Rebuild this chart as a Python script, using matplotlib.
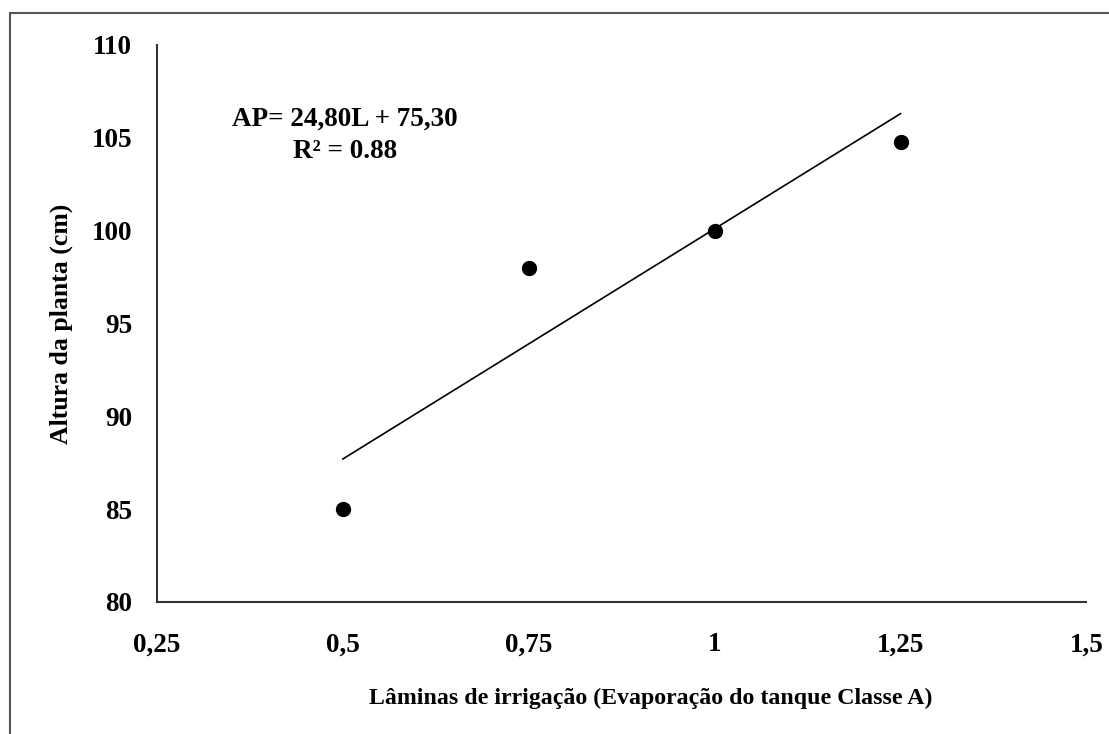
import numpy as np
import matplotlib.pyplot as plt
from matplotlib.patches import Rectangle

# dados
laminas = [0.5, 0.75, 1.0, 1.25]
altura = [85.0, 98.0, 100.0, 104.8]
coef_a = 24.80
coef_b = 75.30
xticks = [0.25, 0.5, 0.75, 1.0, 1.25, 1.5]
xtick_labels = ['0,25', '0,5', '0,75', '1', '1,25', '1,5']
yticks = [80, 85, 90, 95, 100, 105, 110]

plt.rcParams['font.family'] = ['Liberation Serif', 'DejaVu Serif']
plt.rcParams['font.weight'] = 'bold'

fig = plt.figure(figsize=(11.09, 7.34), dpi=100)
ax = fig.add_axes([0.1416, 0.180, 0.838, 0.7587])

# moldura externa
fig.patches.append(Rectangle((10 / 1109, -0.05), 1.2, 1 - 13 / 734 + 0.05,
                             transform=fig.transFigure, fill=False,
                             edgecolor='#555555', linewidth=1.5))

xl = np.array([laminas[0], laminas[-1]])
ax.plot(xl, coef_a * xl + coef_b, color='black', linewidth=1.2)
ax.plot(laminas, altura, 'o', color='black', markersize=10)

ax.set_xlim(0.25, 1.5)
ax.set_ylim(80, 110)
ax.set_xticks(xticks)
ax.set_xticklabels(xtick_labels)
ax.set_yticks(yticks)
ax.tick_params(length=0, labelsize=19.5)
ax.tick_params(axis='x', pad=22)
ax.tick_params(axis='y', pad=18)
for lab in ax.get_xticklabels() + ax.get_yticklabels():
    lab.set_fontweight('bold')

for s in ['top', 'right']:
    ax.spines[s].set_visible(False)
for s in ['left', 'bottom']:
    ax.spines[s].set_color('#333333')
    ax.spines[s].set_linewidth(1.5)

ax.set_xlabel('Lâminas de irrigação (Evaporação do tanque Classe A)',
              fontsize=17.2, fontweight='bold')
ax.set_ylabel('Altura da planta (cm)', fontsize=18.5, fontweight='bold')
ax.xaxis.set_label_coords(0.531, -0.155)
ax.yaxis.set_label_coords(-0.09, 0.5)

ax.text(0.503, 105.15, 'AP= 24,80L + 75,30\nR² = 0.88', ha='center',
        va='center', fontsize=19.5, fontweight='bold', linespacing=1.4)

plt.savefig('out.png', dpi=100)
